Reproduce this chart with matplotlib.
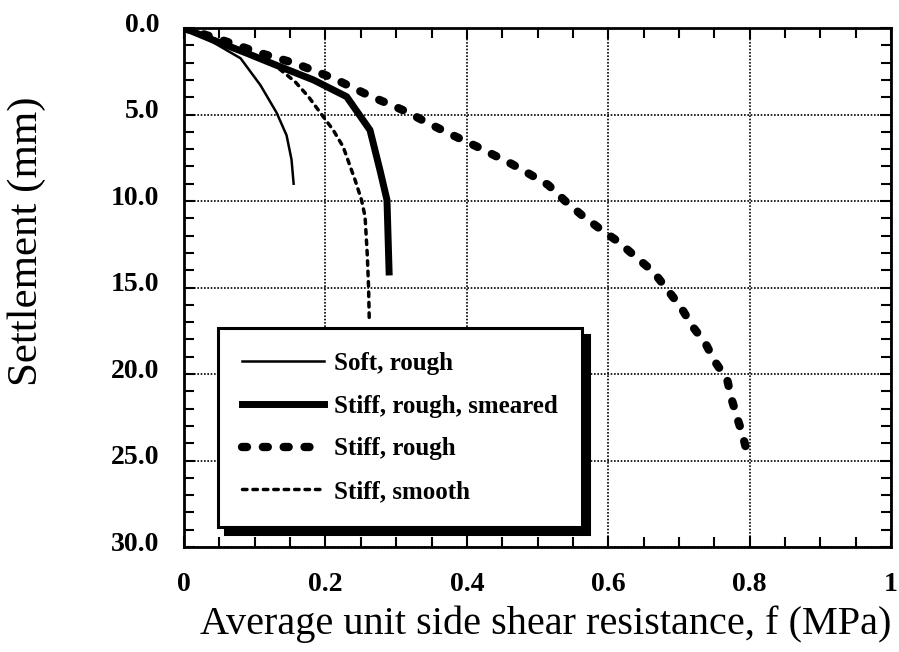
import matplotlib
matplotlib.use("Agg")
import matplotlib.pyplot as plt
import matplotlib.transforms as mtransforms
from matplotlib.ticker import MultipleLocator, FixedLocator

# data: f (MPa) vs settlement (mm)
soft_rough_f = [0.0, 0.04, 0.08, 0.108, 0.131, 0.145, 0.152, 0.155]
soft_rough_s = [0.0, 0.8, 1.75, 3.3, 4.9, 6.2, 7.6, 9.0]

smeared_f = [0.0, 0.041, 0.089, 0.136, 0.183, 0.230, 0.263, 0.277, 0.287, 0.290]
smeared_s = [0.0, 0.69, 1.46, 2.24, 3.0, 3.97, 5.9, 8.2, 9.94, 14.1]

stiff_rough_f = [0.0, 0.05, 0.108, 0.157, 0.211, 0.260, 0.315, 0.341, 0.375, 0.414,
                 0.463, 0.489, 0.515, 0.539, 0.562, 0.588, 0.614, 0.638, 0.664, 0.683,
                 0.702, 0.72, 0.737, 0.751, 0.768, 0.774, 0.782, 0.789, 0.798]
stiff_rough_s = [0.0, 0.65, 1.45, 2.04, 2.9, 3.87, 4.84, 5.41, 6.1, 6.85,
                 7.85, 8.45, 9.07, 10.0, 10.8, 11.6, 12.35, 13.2, 14.1, 15.1,
                 16.1, 17.3, 18.2, 19.3, 20.3, 21.4, 22.5, 23.4, 24.8]

smooth_f = [0.0, 0.05, 0.09, 0.13, 0.157, 0.176, 0.197, 0.211, 0.225, 0.242, 0.251,
            0.256, 0.259, 0.261, 0.262]
smooth_s = [0.0, 0.75, 1.4, 2.2, 3.1, 3.97, 5.13, 5.9, 6.86, 8.8, 9.94,
            10.9, 13.0, 15.0, 17.0]

x_ticks = [0.0, 0.2, 0.4, 0.6, 0.8, 1.0]
x_labels = ["0", "0.2", "0.4", "0.6", "0.8", "1"]
y_ticks = [0, 5, 10, 15, 20, 25, 30]
y_labels = ["0.0", "5.0", "10.0", "15.0", "20.0", "25.0", "30.0"]

plt.rcParams["font.family"] = ["Liberation Serif", "DejaVu Serif"]

fig = plt.figure(figsize=(8.99, 6.52), dpi=100)
ax = fig.add_axes([0.2047, 0.161, 0.7866, 0.796])

ax.plot(soft_rough_f, soft_rough_s, color="black", lw=1.8, label="Soft, rough")
ax.plot(smeared_f, smeared_s, color="black", lw=5, solid_joinstyle="round",
        label="Stiff, rough, smeared")
ax.plot(stiff_rough_f, stiff_rough_s, color="black", lw=6, dashes=(0.6, 1.9),
        dash_capstyle="round", label="Stiff, rough")
ax.plot(smooth_f, smooth_s, color="black", lw=2.5, dashes=(1.3, 1.7),
        dash_capstyle="round", label="Stiff, smooth")

ax.set_xlim(0, 1)
ax.set_ylim(30, 0)
ax.xaxis.set_major_locator(FixedLocator(x_ticks))
ax.set_xticklabels(x_labels)
ax.yaxis.set_major_locator(FixedLocator(y_ticks))
ax.set_yticklabels(y_labels)
ax.xaxis.set_minor_locator(MultipleLocator(0.05))
ax.yaxis.set_minor_locator(MultipleLocator(1))

ax.tick_params(which="both", direction="in", top=True, right=True, width=1.5, color="black")
ax.tick_params(which="major", length=8)
ax.tick_params(which="minor", length=7)
ax.tick_params(axis="x", pad=18, labelsize=20)
ax.tick_params(axis="y", pad=18, labelsize=20)
for lab in ax.get_xticklabels() + ax.get_yticklabels():
    lab.set_fontweight("bold")
# y labels sit a little above their ticks in the original
shift = mtransforms.ScaledTranslation(0, 6 / 100, fig.dpi_scale_trans)
for lab in ax.get_yticklabels():
    lab.set_transform(lab.get_transform() + shift)

for sp in ax.spines.values():
    sp.set_linewidth(2)

ax.grid(True, which="major", color="black", linestyle=(0, (1, 1)), lw=1.2)

ax.set_xlabel("Average unit side shear resistance, f (MPa)", fontsize=29)
ax.set_ylabel("Settlement (mm)", fontsize=31)
ax.xaxis.set_label_coords(0.512, -0.112)
ax.yaxis.set_label_coords(-0.195, 0.59)

leg = ax.legend(loc="upper left", bbox_to_anchor=(0.048, 0.422), borderaxespad=0,
                prop={"weight": "bold", "size": 18}, handlelength=3.3,
                handletextpad=0.4, labelspacing=0.79, borderpad=0.95,
                fancybox=False, framealpha=1,
                shadow={"ox": 5, "oy": -5, "color": "black", "alpha": 1})
leg.get_frame().set_edgecolor("black")
leg.get_frame().set_linewidth(2.2)

fig.savefig("out.png", dpi=100)
